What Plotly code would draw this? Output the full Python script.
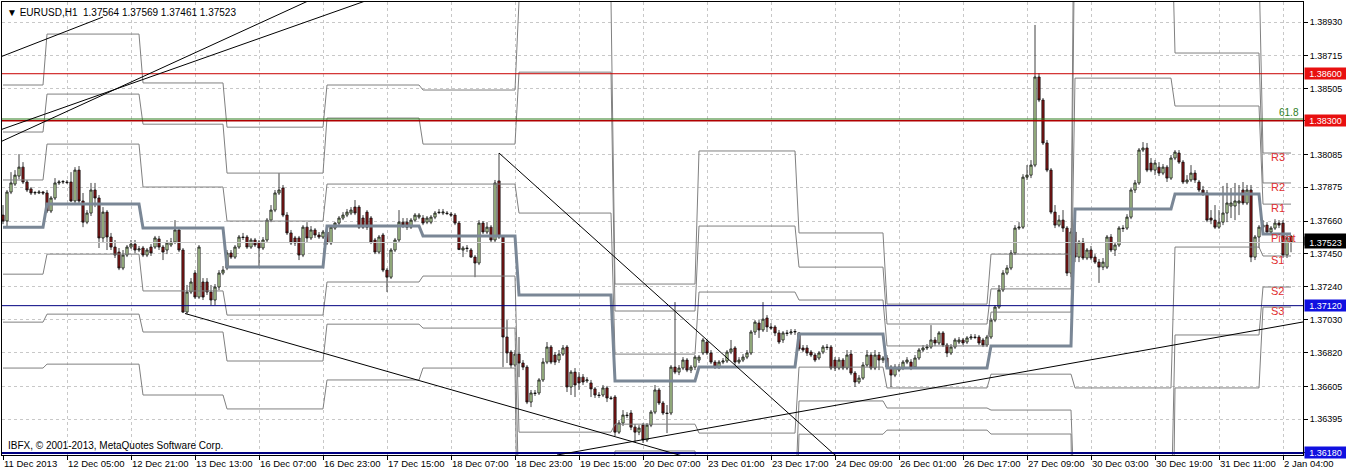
import plotly.graph_objects as go

# ---------------- data ----------------
symbol = "EURUSD,H1"
copyright_text = "IBFX, \u00a9 2001-2013, MetaQuotes Software Corp."

x_tick_bars = list(range(0, 321, 16))
x_tick_text = ["11 Dec 2013", "12 Dec 05:00", "12 Dec 21:00", "13 Dec 13:00", "16 Dec 07:00",
               "16 Dec 23:00", "17 Dec 15:00", "18 Dec 07:00", "18 Dec 23:00", "19 Dec 15:00",
               "20 Dec 07:00", "23 Dec 01:00", "23 Dec 17:00", "24 Dec 09:00", "26 Dec 01:00",
               "26 Dec 17:00", "27 Dec 09:00", "30 Dec 03:00", "30 Dec 19:00", "31 Dec 11:00",
               "2 Jan 04:00"]
y_tick_vals = [1.36180, 1.36395, 1.36605, 1.36820, 1.37030, 1.37240, 1.37450, 1.37660,
               1.37875, 1.38085, 1.38300, 1.38505, 1.38715, 1.38930]

open_ = [1.37698,1.37660,1.37845,1.37896,1.37947,1.38004,1.37909,1.37865,1.37839,1.37839,
1.37845,1.37839,1.37724,1.37807,1.37903,1.37909,1.37909,1.37909,1.37788,1.37985,
1.37788,1.37653,1.37711,1.37858,1.37807,1.37552,1.37717,1.37558,1.37494,1.37462,
1.37360,1.37443,1.37494,1.37513,1.37475,1.37488,1.37443,1.37494,1.37494,1.37546,
1.37494,1.37475,1.37507,1.37526,1.37603,1.37475,1.37079,1.37207,1.37328,1.37175,
1.37271,1.37271,1.37207,1.37156,1.37239,1.37328,1.37360,1.37456,1.37430,1.37494,
1.37558,1.37558,1.37494,1.37539,1.37526,1.37488,1.37539,1.37666,1.37730,1.37839,
1.37871,1.37698,1.37584,1.37552,1.37552,1.37443,1.37621,1.37552,1.37603,1.37571,
1.37558,1.37590,1.37520,1.37615,1.37647,1.37679,1.37698,1.37711,1.37749,1.37749,
1.37679,1.37717,1.37679,1.37539,1.37462,1.37571,1.37347,1.37302,1.37475,1.37539,
1.37653,1.37653,1.37621,1.37666,1.37685,1.37679,1.37653,1.37653,1.37685,1.37717,
1.37711,1.37711,1.37704,1.37698,1.37647,1.37475,1.37488,1.37475,1.37430,1.37392,
1.37647,1.37590,1.37621,1.37539,1.37916,1.37558,1.36920,1.36824,1.36741,1.36811,
1.36754,1.36728,1.36505,1.36563,1.36563,1.36646,1.36760,1.36856,1.36805,1.36773,
1.36811,1.36856,1.36601,1.36696,1.36664,1.36664,1.36640,1.36627,1.36589,1.36550,
1.36550,1.36595,1.36531,1.36537,1.36313,1.36371,1.36422,1.36435,1.36345,1.36313,
1.36358,1.36263,1.36358,1.36441,1.36582,1.36499,1.36435,1.36435,1.36728,1.36696,
1.36722,1.36773,1.36709,1.36728,1.36773,1.36818,1.36888,1.36818,1.36760,1.36728,
1.36760,1.36767,1.36824,1.36850,1.36760,1.36773,1.36792,1.36818,1.36952,1.37009,
1.36965,1.37041,1.36984,1.36984,1.36946,1.36901,1.36946,1.36946,1.36952,1.36946,
1.36850,1.36850,1.36824,1.36805,1.36786,1.36824,1.36856,1.36856,1.36773,1.36722,
1.36773,1.36722,1.36811,1.36690,1.36633,1.36658,1.36741,1.36805,1.36722,1.36805,
1.36773,1.36786,1.36728,1.36677,1.36709,1.36722,1.36760,1.36760,1.36728,1.36786,
1.36837,1.36850,1.36856,1.36901,1.36882,1.36946,1.36869,1.36818,1.36856,1.36888,
1.36901,1.36888,1.36914,1.36920,1.36920,1.36901,1.36869,1.36920,1.37028,1.37111,
1.37220,1.37328,1.37360,1.37456,1.37615,1.37621,1.37940,1.37953,1.38017,1.38579,
1.38432,1.38158,1.37985,1.37717,1.37634,1.37666,1.37615,1.37328,1.37590,1.37430,
1.37526,1.37424,1.37475,1.37430,1.37398,1.37366,1.37366,1.37558,1.37475,1.37507,
1.37615,1.37615,1.37685,1.37858,1.37903,1.38113,1.38126,1.38030,1.37985,1.38004,
1.37966,1.38004,1.37934,1.38062,1.38094,1.38036,1.37909,1.37922,1.37966,1.37909,
1.37858,1.37839,1.37679,1.37666,1.37621,1.37653,1.37711,1.37756,1.37756,1.37775,
1.37858,1.37775,1.37858,1.37430,1.37558,1.37621,1.37634,1.37590,1.37615,1.37647,
1.37647,1.37443,1.37564]

high = [1.37762,1.37858,1.37972,1.37985,1.38087,1.38036,1.37922,1.37877,1.37852,1.37858,
1.37852,1.37858,1.37820,1.37934,1.37922,1.37922,1.37922,1.37972,1.38004,1.38011,
1.37839,1.37730,1.37903,1.37903,1.37826,1.37749,1.37730,1.37584,1.37539,1.37488,
1.37475,1.37507,1.37539,1.37539,1.37501,1.37501,1.37488,1.37513,1.37565,1.37565,
1.37507,1.37539,1.37552,1.37666,1.37615,1.37488,1.37252,1.37296,1.37347,1.37507,
1.37296,1.37296,1.37252,1.37258,1.37347,1.37373,1.37475,1.37475,1.37507,1.37571,
1.37584,1.37571,1.37552,1.37552,1.37539,1.37558,1.37679,1.37762,1.37858,1.37966,
1.37890,1.37717,1.37603,1.37565,1.37565,1.37634,1.37653,1.37628,1.37615,1.37590,
1.37603,1.37603,1.37634,1.37653,1.37692,1.37717,1.37737,1.37749,1.37794,1.37762,
1.37698,1.37730,1.37692,1.37552,1.37571,1.37584,1.37360,1.37488,1.37552,1.37730,
1.37679,1.37679,1.37679,1.37711,1.37711,1.37698,1.37692,1.37698,1.37724,1.37737,
1.37737,1.37724,1.37717,1.37711,1.37660,1.37501,1.37507,1.37488,1.37443,1.37666,
1.37660,1.37653,1.37634,1.37922,1.38094,1.37571,1.37028,1.36837,1.36837,1.36920,
1.36773,1.36741,1.36582,1.36582,1.36658,1.36786,1.36888,1.36869,1.36824,1.36837,
1.36869,1.36869,1.36709,1.36722,1.36696,1.36684,1.36664,1.36646,1.36601,1.36569,
1.36614,1.36608,1.36544,1.36550,1.36390,1.36454,1.36441,1.36454,1.36364,1.36358,
1.36371,1.36371,1.36454,1.36614,1.36595,1.36512,1.36486,1.36741,1.37143,1.36741,
1.36792,1.36786,1.36741,1.36805,1.36805,1.36914,1.36901,1.36837,1.36773,1.36773,
1.36786,1.36837,1.36901,1.36862,1.36792,1.36811,1.36837,1.36965,1.37028,1.37028,
1.37143,1.37060,1.37009,1.36996,1.36965,1.36958,1.36965,1.36971,1.36971,1.36952,
1.36869,1.36869,1.36837,1.36818,1.36831,1.36869,1.36875,1.36869,1.36792,1.36792,
1.36786,1.36837,1.36837,1.36703,1.36677,1.36760,1.36837,1.36824,1.36837,1.36824,
1.36799,1.36805,1.36741,1.36747,1.36747,1.36773,1.36792,1.36779,1.36805,1.36850,
1.36869,1.36875,1.36996,1.36920,1.36958,1.36958,1.36882,1.36875,1.36914,1.36920,
1.36914,1.36926,1.36939,1.36939,1.36933,1.36914,1.36933,1.37041,1.37124,1.37252,
1.37347,1.37379,1.37475,1.37634,1.37653,1.37959,1.38017,1.38049,1.38911,1.38604,
1.38445,1.38177,1.37998,1.37762,1.37698,1.37730,1.37628,1.37615,1.37634,1.37539,
1.37552,1.37488,1.37501,1.37449,1.37418,1.37424,1.37571,1.37577,1.37520,1.37628,
1.37634,1.37704,1.37871,1.37922,1.38126,1.38164,1.38158,1.38062,1.38049,1.38036,
1.38024,1.38017,1.38081,1.38113,1.38113,1.38049,1.37953,1.38017,1.37985,1.37922,
1.37884,1.37858,1.37730,1.37762,1.37730,1.37884,1.37903,1.37871,1.37903,1.37890,
1.37909,1.37890,1.37890,1.37571,1.37634,1.37666,1.37653,1.37628,1.37672,1.37666,
1.37666,1.37571,1.37569]

low = [1.37640,1.37621,1.37832,1.37884,1.37928,1.37896,1.37845,1.37826,1.37826,1.37832,
1.37826,1.37711,1.37711,1.37794,1.37890,1.37896,1.37896,1.37781,1.37775,1.37775,
1.37621,1.37640,1.37692,1.37749,1.37488,1.37526,1.37475,1.37475,1.37424,1.37347,
1.37347,1.37430,1.37482,1.37456,1.37462,1.37430,1.37430,1.37437,1.37482,1.37475,
1.37411,1.37449,1.37494,1.37513,1.37462,1.37073,1.37066,1.37194,1.37163,1.37163,
1.37156,1.37188,1.37124,1.37124,1.37220,1.37315,1.37347,1.37418,1.37418,1.37482,
1.37539,1.37482,1.37482,1.37494,1.37366,1.37475,1.37526,1.37653,1.37717,1.37826,
1.37685,1.37571,1.37507,1.37501,1.37411,1.37430,1.37526,1.37539,1.37552,1.37546,
1.37546,1.37507,1.37507,1.37603,1.37634,1.37666,1.37685,1.37698,1.37698,1.37609,
1.37609,1.37603,1.37513,1.37449,1.37449,1.37334,1.37207,1.37290,1.37462,1.37526,
1.37615,1.37603,1.37609,1.37653,1.37672,1.37634,1.37640,1.37640,1.37672,1.37704,
1.37698,1.37698,1.37685,1.37634,1.37475,1.37430,1.37462,1.37424,1.37302,1.37379,
1.37577,1.37577,1.37526,1.37526,1.37546,1.36728,1.36754,1.36722,1.36728,1.36664,
1.36709,1.36492,1.36473,1.36544,1.36550,1.36633,1.36747,1.36747,1.36741,1.36754,
1.36799,1.36569,1.36550,1.36537,1.36582,1.36614,1.36627,1.36537,1.36531,1.36531,
1.36537,1.36505,1.36518,1.36288,1.36301,1.36352,1.36403,1.36326,1.36250,1.36294,
1.36244,1.36250,1.36345,1.36428,1.36486,1.36422,1.36307,1.36422,1.36683,1.36677,
1.36709,1.36696,1.36690,1.36709,1.36754,1.36805,1.36805,1.36747,1.36716,1.36716,
1.36747,1.36754,1.36811,1.36741,1.36747,1.36760,1.36779,1.36805,1.36933,1.36914,
1.36952,1.36952,1.36965,1.36926,1.36875,1.36882,1.36926,1.36933,1.36933,1.36831,
1.36824,1.36799,1.36792,1.36760,1.36773,1.36811,1.36837,1.36709,1.36703,1.36709,
1.36709,1.36709,1.36677,1.36601,1.36620,1.36646,1.36728,1.36709,1.36709,1.36709,
1.36754,1.36716,1.36601,1.36664,1.36696,1.36709,1.36747,1.36709,1.36716,1.36773,
1.36824,1.36837,1.36844,1.36862,1.36869,1.36856,1.36792,1.36805,1.36844,1.36875,
1.36869,1.36875,1.36901,1.36907,1.36869,1.36856,1.36856,1.36907,1.37015,1.37099,
1.37207,1.37315,1.37347,1.37443,1.37603,1.37609,1.37922,1.37934,1.38004,1.38419,
1.38145,1.37972,1.37704,1.37615,1.37621,1.37590,1.37309,1.37302,1.37398,1.37398,
1.37411,1.37411,1.37411,1.37386,1.37265,1.37347,1.37354,1.37462,1.37437,1.37494,
1.37590,1.37603,1.37672,1.37839,1.37890,1.38100,1.37972,1.37972,1.37953,1.37947,
1.37953,1.37909,1.37922,1.38049,1.38024,1.37896,1.37896,1.37909,1.37903,1.37845,
1.37820,1.37653,1.37640,1.37609,1.37609,1.37634,1.37653,1.37679,1.37666,1.37698,
1.37762,1.37762,1.37398,1.37411,1.37488,1.37603,1.37577,1.37571,1.37603,1.37615,
1.37424,1.37424,1.37461]

close = [1.37660,1.37845,1.37903,1.37953,1.38004,1.37909,1.37858,1.37839,1.37842,1.37845,
1.37839,1.37724,1.37807,1.37903,1.37909,1.37912,1.37906,1.37788,1.37985,1.37788,
1.37653,1.37711,1.37858,1.37807,1.37552,1.37717,1.37558,1.37494,1.37443,1.37360,
1.37443,1.37494,1.37513,1.37475,1.37482,1.37443,1.37475,1.37456,1.37552,1.37494,
1.37462,1.37520,1.37526,1.37603,1.37475,1.37079,1.37207,1.37271,1.37175,1.37494,
1.37175,1.37207,1.37156,1.37239,1.37328,1.37347,1.37456,1.37430,1.37494,1.37558,
1.37555,1.37494,1.37539,1.37507,1.37488,1.37539,1.37666,1.37730,1.37839,1.37858,
1.37698,1.37584,1.37520,1.37520,1.37443,1.37621,1.37552,1.37603,1.37571,1.37558,
1.37590,1.37520,1.37621,1.37647,1.37679,1.37698,1.37717,1.37730,1.37711,1.37621,
1.37621,1.37621,1.37526,1.37462,1.37558,1.37347,1.37302,1.37475,1.37539,1.37653,
1.37634,1.37621,1.37666,1.37698,1.37698,1.37647,1.37679,1.37685,1.37711,1.37714,
1.37717,1.37708,1.37698,1.37647,1.37478,1.37488,1.37485,1.37430,1.37392,1.37647,
1.37590,1.37621,1.37539,1.37903,1.37558,1.36920,1.36818,1.36741,1.36811,1.36754,
1.36728,1.36505,1.36563,1.36560,1.36646,1.36760,1.36856,1.36760,1.36760,1.36811,
1.36850,1.36601,1.36696,1.36614,1.36627,1.36633,1.36646,1.36589,1.36550,1.36547,
1.36595,1.36531,1.36528,1.36313,1.36371,1.36422,1.36419,1.36345,1.36313,1.36339,
1.36263,1.36358,1.36441,1.36582,1.36499,1.36435,1.36432,1.36728,1.36696,1.36722,
1.36773,1.36709,1.36728,1.36792,1.36792,1.36901,1.36818,1.36760,1.36728,1.36760,
1.36767,1.36824,1.36844,1.36760,1.36773,1.36792,1.36818,1.36952,1.37015,1.36965,
1.37034,1.36984,1.36977,1.36946,1.36888,1.36946,1.36943,1.36952,1.36955,1.36844,
1.36837,1.36818,1.36805,1.36773,1.36818,1.36856,1.36853,1.36722,1.36722,1.36773,
1.36722,1.36805,1.36690,1.36633,1.36658,1.36741,1.36805,1.36722,1.36805,1.36773,
1.36786,1.36728,1.36677,1.36728,1.36728,1.36760,1.36773,1.36722,1.36786,1.36837,
1.36850,1.36856,1.36901,1.36882,1.36946,1.36869,1.36818,1.36856,1.36901,1.36901,
1.36882,1.36914,1.36920,1.36917,1.36882,1.36869,1.36920,1.37028,1.37111,1.37220,
1.37328,1.37360,1.37456,1.37615,1.37621,1.37940,1.37953,1.38017,1.38579,1.38432,
1.38158,1.37985,1.37717,1.37634,1.37666,1.37615,1.37328,1.37590,1.37430,1.37526,
1.37424,1.37475,1.37424,1.37398,1.37366,1.37398,1.37558,1.37475,1.37507,1.37615,
1.37612,1.37685,1.37858,1.37903,1.38113,1.38126,1.37985,1.37985,1.38030,1.37966,
1.38004,1.37934,1.38062,1.38100,1.38036,1.37909,1.37922,1.37966,1.37922,1.37858,
1.37839,1.37666,1.37666,1.37621,1.37653,1.37711,1.37775,1.37775,1.37788,1.37788,
1.37775,1.37858,1.37430,1.37558,1.37621,1.37634,1.37590,1.37615,1.37647,1.37634,
1.37443,1.37552,1.37523]

# daily pivot levels (one value per trading day)
day_first_bar = [0, 11, 35, 56, 81, 105, 129, 153, 174, 199, 221, 247, 268, 293, 315]
piv_R3 = [1.38528, 1.38853, 1.38541, 1.38259, 1.38528, 1.38496, 1.39064, 1.37258, 1.38107, 1.37584, 1.37130, 1.37449, 1.40595, 1.39293, 1.38094]
piv_R2 = [1.38228, 1.38470, 1.38278, 1.37966, 1.38317, 1.38151, 1.38610, 1.37086, 1.37628, 1.37366, 1.37003, 1.37227, 1.39753, 1.38732, 1.37903]
piv_R1 = [1.37922, 1.38151, 1.37877, 1.37660, 1.37896, 1.37896, 1.37711, 1.36811, 1.37207, 1.37156, 1.36863, 1.37079, 1.38572, 1.38394, 1.37768]
piv_P  = [1.37621, 1.37768, 1.37615, 1.37366, 1.37628, 1.37565, 1.37188, 1.36640, 1.36728, 1.36939, 1.36722, 1.36863, 1.37737, 1.37832, 1.37577]
piv_S1 = [1.37321, 1.37449, 1.37214, 1.37060, 1.37271, 1.37309, 1.36313, 1.36364, 1.36307, 1.36728, 1.36595, 1.36683, 1.36595, 1.37494, 1.37437]
piv_S2 = [1.37015, 1.37066, 1.36952, 1.36767, 1.37002, 1.36977, 1.35816, 1.36193, 1.35829, 1.36512, 1.36467, 1.36454, 1.35746, 1.36933, 1.37239]
piv_S3 = [1.36722, 1.36747, 1.36550, 1.36461, 1.36646, 1.36722, 1.34923, 1.35918, 1.35408, 1.36300, 1.36326, 1.36301, 1.34585, 1.36595, 1.37111]
piv_names = ["R3", "R2", "R1", "Pivot", "S1", "S2", "S3"]

# horizontal objects
hline_prices = [1.38600, 1.38300, 1.37120, 1.36180]
hline_colors = ["#c80000", "#b00000", "#000080", "#000080"]
hline_widths = [1, 1.5, 1, 2]
hline_label_bg = ["#e81010", "#e81010", "#1010e0", "#1010e0"]
fib_level = 1.38300
ask_price = 1.37545

# trend lines: (bar, price) anchors
trend_lines = [
    ([-0.75, 25.0], [1.38706, 1.38962]),
    ([-0.75, 85.0], [1.38164, 1.39166]),
    ([-0.75, 100.0], [1.38241, 1.39149]),
    ([45.5, 170.0], [1.37070, 1.36160]),
    ([124.0, 209.0], [1.38094, 1.36144]),
    ([138.5, 325.0], [1.36167, 1.37016]),
]

# ---------------- figure ----------------
n = len(close)
bars = list(range(n))
X_RANGE = [-0.25, 325.0]
Y_RANGE = [1.361672, 1.390576]
FONT = "Liberation Sans, Arial, sans-serif"

fig = go.Figure()

def day_of(i):
    d = 0
    for k, s in enumerate(day_first_bar):
        if i >= s:
            d = k
    return d

def hline(price, color, width):
    fig.add_trace(go.Scatter(x=X_RANGE, y=[price, price], mode="lines",
                             line=dict(color=color, width=width), hoverinfo="skip"))

# bid line
hline(close[-1], "#c8c8c8", 1)

day_idx = [day_of(i) for i in bars]
for lvl in [piv_R3, piv_R2, piv_R1, piv_S1, piv_S2, piv_S3]:
    fig.add_trace(go.Scatter(x=bars, y=[lvl[d] for d in day_idx], mode="lines",
                             line=dict(color="#808080", width=1), hoverinfo="skip"))
fig.add_trace(go.Scatter(x=bars, y=[piv_P[d] for d in day_idx], mode="lines",
                         line=dict(color="#7a8796", width=3), hoverinfo="skip"))

for p, c, w in zip(hline_prices, hline_colors, hline_widths):
    hline(p, c, w)
hline(fib_level + 0.00011, "#2e7d1e", 1)

for xs, ys in trend_lines:
    fig.add_trace(go.Scatter(x=xs, y=ys, mode="lines", line=dict(color="black", width=1),
                             hoverinfo="skip"))

# pivot names for the last day (drawn under the candles, like the terminal)
last = len(day_first_bar) - 1
piv_last = [piv_R3[last], piv_R2[last], piv_R1[last], piv_P[last], piv_S1[last], piv_S2[last], piv_S3[last]]
fig.add_trace(go.Scatter(x=[day_first_bar[last] + 2.0] * 7, y=piv_last, mode="text",
                         text=piv_names, textposition="bottom right",
                         textfont=dict(family=FONT, size=11, color="#e03030"), hoverinfo="skip"))

fig.add_trace(go.Candlestick(
    x=bars, open=open_, high=high, low=low, close=close,
    increasing=dict(line=dict(color="#101010", width=0.8), fillcolor="#c8eaa8"),
    decreasing=dict(line=dict(color="#101010", width=0.8), fillcolor="#8c1414"),
    whiskerwidth=0, hoverinfo="skip"))

annotations = []
title_text = "\u25bc %s  %.5f %.5f %.5f %.5f" % (symbol, open_[-1], high[-1], low[-1], close[-1])
annotations.append(dict(xref="paper", yref="paper", x=0, y=1, xanchor="left", yanchor="top",
                        xshift=3, yshift=-3, text=title_text, showarrow=False,
                        font=dict(family=FONT, size=10, color="black")))
annotations.append(dict(xref="paper", yref="paper", x=0, y=0, xanchor="left", yanchor="bottom",
                        xshift=4, yshift=2, text=copyright_text, showarrow=False,
                        font=dict(family=FONT, size=10, color="black")))
annotations.append(dict(xref="paper", x=1, y=fib_level, xanchor="right", yanchor="bottom",
                        xshift=-2, yshift=1, text="61.8", showarrow=False,
                        font=dict(family=FONT, size=10, color="#2e7d1e")))

label_specs = [(ask_price, "black"), (close[-1], "black")] + list(zip(hline_prices, hline_label_bg))
for p, bg in label_specs:
    annotations.append(dict(xref="paper", x=1, y=p, xanchor="left", yanchor="middle", xshift=1,
                            text="%.5f" % p, showarrow=False, bgcolor=bg, width=41, height=11,
                            borderpad=0, font=dict(family=FONT, size=9, color="white")))

fig.update_layout(
    width=1346, height=474,
    margin=dict(l=2, r=43, t=2, b=19, autoexpand=False),
    paper_bgcolor="white", plot_bgcolor="white",
    showlegend=False, hovermode=False, boxgap=0.2,
    annotations=annotations,
    xaxis=dict(range=X_RANGE, tickvals=x_tick_bars, ticktext=x_tick_text,
               tickangle=0, automargin=False,
               ticks="outside", ticklen=4, tickcolor="black", ticklabelposition="outside right",
               showgrid=True, gridcolor="#c8c8c8", griddash="3px,3px", gridwidth=1,
               showline=True, linecolor="black", mirror=True, zeroline=False,
               rangeslider=dict(visible=False), fixedrange=True,
               tickfont=dict(family=FONT, size=9.5, color="black")),
    yaxis=dict(range=Y_RANGE, side="right", tickvals=y_tick_vals,
               ticktext=["%.5f" % v for v in y_tick_vals], automargin=False,
               ticks="outside", ticklen=4, tickcolor="black",
               showgrid=True, gridcolor="#c8c8c8", griddash="3px,3px", gridwidth=1,
               showline=True, linecolor="black", mirror=True, zeroline=False,
               tickfont=dict(family=FONT, size=9, color="black")),
)

fig.write_html("out.html", config={"displayModeBar": False, "staticPlot": True},
               post_script="document.body.style.margin='0px';document.body.style.overflow='hidden';")
